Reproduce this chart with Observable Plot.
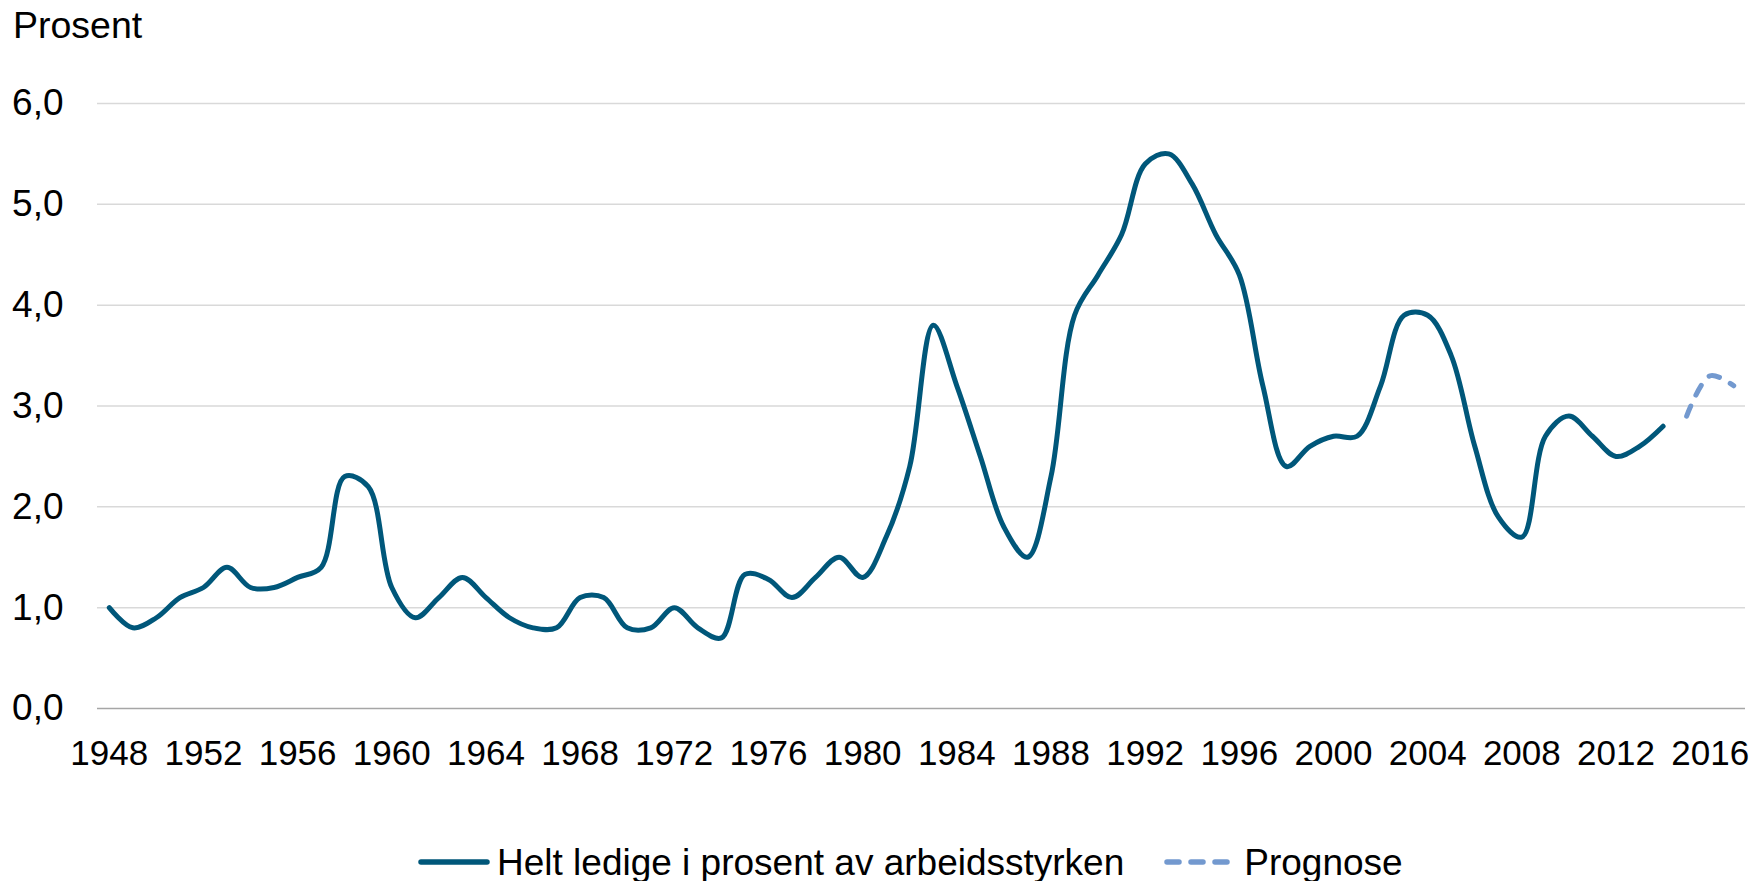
<!DOCTYPE html>
<html>
<head>
<meta charset="utf-8">
<script src="https://cdn.jsdelivr.net/npm/d3@7"></script>
<script src="https://cdn.jsdelivr.net/npm/@observablehq/plot@0.6"></script>
<style>
  html, body { margin: 0; padding: 0; background: #fff; }
  body { width: 1756px; height: 881px; overflow: hidden; font-family: "Liberation Sans", Arial, sans-serif; color: #000; }
  #head { height: 60px; position: relative; }
  #head span { position: absolute; left: 13px; top: 7px; font-size: 37.5px; line-height: 37px; }
  #chart svg { display: block; }
  #legend { height: 81px; box-sizing: border-box; padding-top: 43px; padding-left: 418px; display: flex; align-items: center; font-size: 37px; line-height: 37px; }
  #legend .item { display: flex; align-items: center; height: 37px; }
  #legend svg { display: block; }
</style>
</head>
<body>
<div id="head"><span>Prosent</span></div>
<div id="chart"></div>
<div id="legend"></div>
<script>
// Historical series: helt ledige i prosent av arbeidsstyrken, 1948–2014
const firstYear = 1948;
const unemployment = [
  1.0, 0.8, 0.9, 1.1, 1.2, 1.4, 1.2, 1.2, 1.3, 1.4,   // 1948–1957
  2.3, 2.2, 1.2, 0.9, 1.1, 1.3, 1.1, 0.9, 0.8, 0.8,   // 1958–1967
  1.1, 1.1, 0.8, 0.8, 1.0, 0.8, 0.7, 1.33, 1.28, 1.1, // 1968–1977
  1.3, 1.5, 1.3, 1.7, 2.4, 3.8, 3.2, 2.5, 1.8, 1.5,   // 1978–1987
  2.3, 3.9, 4.3, 4.7, 5.4, 5.5, 5.2, 4.7, 4.3, 3.2,   // 1988–1997
  2.4, 2.6, 2.7, 2.7, 3.2, 3.9, 3.9, 3.5, 2.6, 1.9,   // 1998–2007
  1.7, 2.7, 2.9, 2.7, 2.5, 2.6, 2.8                   // 2008–2014
];
// Forecast
const forecastYears = [2015, 2016, 2017];
const forecast = [2.9, 3.3, 3.2];

// Axis
const xTicks = [1948, 1952, 1956, 1960, 1964, 1968, 1972, 1976, 1980, 1984, 1988, 1992, 1996, 2000, 2004, 2008, 2012, 2016];
const yTicks = [0, 1, 2, 3, 4, 5, 6];
const seriesNames = ["Helt ledige i prosent av arbeidsstyrken", "Prognose"];
const colors = ["#00577a", "#7399cf"];

const hist = unemployment.map((v, i) => ({year: firstYear + i, value: v}));
const prog = forecast.map((v, i) => ({year: forecastYears[i], value: v}));

const plot = Plot.plot({
  width: 1756,
  height: 740,
  marginTop: 43,
  marginBottom: 92,
  marginLeft: 97,
  marginRight: 11,
  style: {fontFamily: '"Liberation Sans", Arial, sans-serif', fontSize: "36px", color: "#000", background: "#fff", overflow: "visible"},
  x: {domain: [1947.5, 2017.5]},
  y: {domain: [0, 6]},
  marks: [
    Plot.ruleY(yTicks.filter(d => d > 0), {stroke: "#d9d9d9", strokeWidth: 1.5}),
    Plot.ruleY([0], {stroke: "#a6a6a6", strokeWidth: 1.5}),
    Plot.axisY({ticks: yTicks, tickSize: 0, tickPadding: 34, label: null,
      tickFormat: d => d.toFixed(1).replace(".", ","), fontSize: 37}),
    Plot.axisX({ticks: xTicks, tickSize: 0, tickPadding: 32, label: null,
      tickFormat: d => String(d), fontSize: 35}),
    Plot.line(hist, {x: "year", y: "value", stroke: colors[0], strokeWidth: 5,
      curve: "catmull-rom", strokeLinecap: "round", strokeLinejoin: "round"}),
    Plot.line(prog, {x: "year", y: "value", stroke: colors[1], strokeWidth: 5,
      curve: "catmull-rom", strokeLinecap: "round", strokeDasharray: "11,12"})
  ]
});
document.getElementById("chart").appendChild(plot);

// Legend
const legend = d3.select("#legend");
const it1 = legend.append("div").attr("class", "item");
const s1 = it1.append("svg").attr("width", 75).attr("height", 20);
s1.append("line").attr("x1", 3).attr("x2", 69).attr("y1", 10).attr("y2", 10)
  .attr("stroke", colors[0]).attr("stroke-width", 5.5).attr("stroke-linecap", "round");
it1.append("span").style("margin-left", "4px").text(seriesNames[0]);

const it2 = legend.append("div").attr("class", "item").style("margin-left", "38px");
const s2 = it2.append("svg").attr("width", 70).attr("height", 20);
s2.append("line").attr("x1", 5).attr("x2", 66).attr("y1", 10).attr("y2", 10)
  .attr("stroke", colors[1]).attr("stroke-width", 5.5).attr("stroke-linecap", "round")
  .attr("stroke-dasharray", "12,12");
it2.append("span").style("margin-left", "12px").text(seriesNames[1]);
</script>
</body>
</html>
